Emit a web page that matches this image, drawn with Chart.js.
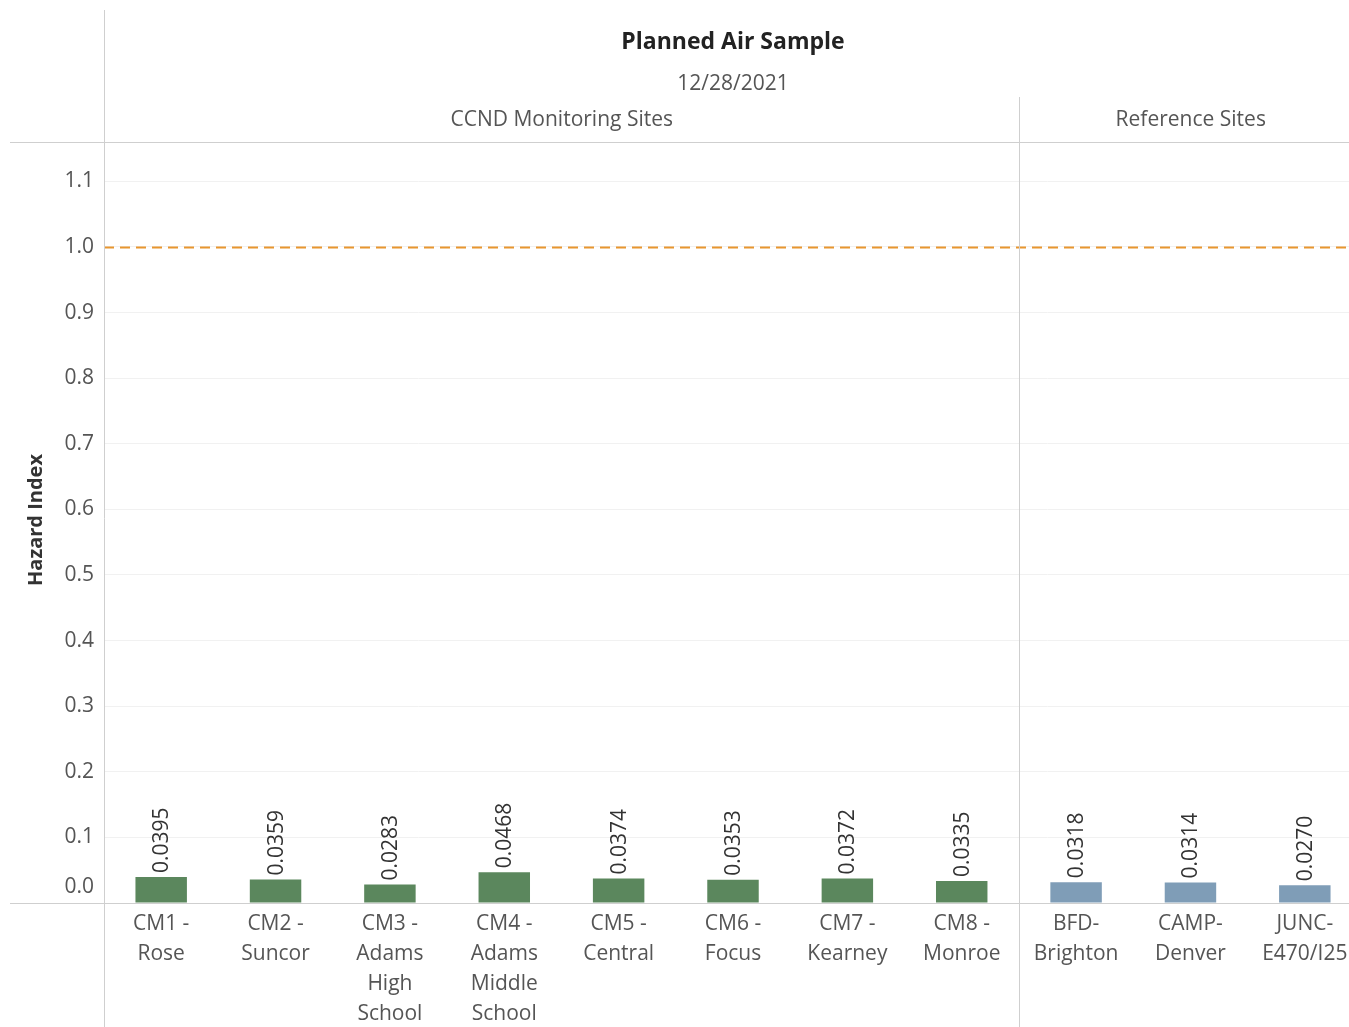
<!DOCTYPE html>
<html>
<head>
<meta charset="utf-8">
<script src="https://cdn.jsdelivr.net/npm/chart.js@4/dist/chart.umd.min.js"></script>
<style>
  html, body { margin: 0; padding: 0; background: #fff; overflow: hidden; }
  #wrap { width: 1362px; height: 1027px; }
</style>
</head>
<body>
<div id="wrap"><canvas id="airChart" width="1362" height="1027"></canvas></div>
<script>
// data
const categories = [
    ['CM1 -', 'Rose'], ['CM2 -', 'Suncor'], ['CM3 -', 'Adams', 'High', 'School'],
    ['CM4 -', 'Adams', 'Middle', 'School'], ['CM5 -', 'Central'], ['CM6 -', 'Focus'],
    ['CM7 -', 'Kearney'], ['CM8 -', 'Monroe'], ['BFD-', 'Brighton'], ['CAMP-', 'Denver'],
    ['JUNC-', 'E470/I25']
];
const siteGroup = ['CCND', 'CCND', 'CCND', 'CCND', 'CCND', 'CCND', 'CCND', 'CCND', 'REF', 'REF', 'REF'];
const groupNames = { CCND: 'CCND Monitoring Sites', REF: 'Reference Sites' };
const hazardIndex = [0.0395, 0.0359, 0.0283, 0.0468, 0.0374, 0.0353, 0.0372, 0.0335, 0.0318, 0.0314, 0.0270];
const yTicks = [0.0, 0.1, 0.2, 0.3, 0.4, 0.5, 0.6, 0.7, 0.8, 0.9, 1.0, 1.1];
const threshold = 1.0;

const groupColors = { CCND: '#5b875d', REF: '#7f9db7' };
const fontFamily = '"Open Sans", "Noto Sans", sans-serif';
const lineColor = '#cfcfcf';

document.addEventListener("DOMContentLoaded", function() {
    // header, frame lines, threshold line and value labels
    const decor = {
        id: 'decor',
        afterDatasetsDraw(chart) {
            const ctx = chart.ctx;
            const area = chart.chartArea;
            const x = chart.scales.x;
            const y = chart.scales.y;
            const W = chart.width, H = chart.height;

            ctx.save();

            // threshold dashed line
            const ty = Math.round(y.getPixelForValue(threshold)) + 0.5;
            ctx.strokeStyle = '#e8962f';
            ctx.lineWidth = 2;
            ctx.setLineDash([10, 6]);
            ctx.beginPath();
            ctx.moveTo(area.left, ty);
            ctx.lineTo(W, ty);
            ctx.stroke();
            ctx.setLineDash([]);

            // frame lines
            ctx.strokeStyle = lineColor;
            ctx.lineWidth = 1;
            ctx.beginPath();
            ctx.moveTo(area.left + 0.5, 10);
            ctx.lineTo(area.left + 0.5, H);
            ctx.moveTo(10, area.top + 0.5);
            ctx.lineTo(W, area.top + 0.5);
            ctx.moveTo(10, area.bottom + 0.5);
            ctx.lineTo(W, area.bottom + 0.5);
            ctx.stroke();

            // divider between the two site groups
            let split = siteGroup.findIndex(g => g !== siteGroup[0]);
            const divX = Math.round((x.getPixelForValue(split - 1) + x.getPixelForValue(split)) / 2) + 0.5;
            ctx.beginPath();
            ctx.moveTo(divX, 97);
            ctx.lineTo(divX, H);
            ctx.stroke();

            // titles
            const fullRight = x.getPixelForValue(categories.length - 1) + (x.getPixelForValue(1) - x.getPixelForValue(0)) / 2;
            const mid = (area.left + fullRight) / 2;
            ctx.textAlign = 'center';
            ctx.textBaseline = 'middle';
            ctx.fillStyle = '#222';
            ctx.font = 'bold 23px ' + fontFamily;
            ctx.fillText('Planned Air Sample', mid, 42);
            ctx.fillStyle = '#555';
            ctx.font = '21px ' + fontFamily;
            ctx.fillText('12/28/2021', mid, 84);
            ctx.fillText(groupNames[siteGroup[0]], (area.left + divX) / 2, 120);
            ctx.fillText(groupNames[siteGroup[split]], (divX + fullRight) / 2, 120);

            // y axis title
            ctx.save();
            ctx.translate(36, 520);
            ctx.rotate(-Math.PI / 2);
            ctx.fillStyle = '#333';
            ctx.font = 'bold 20px ' + fontFamily;
            ctx.fillText('Hazard Index', 0, 0);
            ctx.restore();

            // rotated value labels above bars
            ctx.fillStyle = '#333';
            ctx.font = '21px ' + fontFamily;
            ctx.textAlign = 'left';
            ctx.textBaseline = 'middle';
            chart.getDatasetMeta(0).data.forEach((bar, i) => {
                ctx.save();
                ctx.translate(bar.x + 1, bar.y - 4);
                ctx.rotate(-Math.PI / 2);
                ctx.fillText(hazardIndex[i].toFixed(4), 0, 0);
                ctx.restore();
            });

            ctx.restore();
        }
    };

    const ctx = document.getElementById('airChart').getContext('2d');
    const airChart = new Chart(ctx, {
        type: 'bar',
        data: {
            labels: categories,
            datasets: [{
                label: 'Hazard Index',
                data: hazardIndex,
                backgroundColor: siteGroup.map(g => groupColors[g]),
                borderWidth: 0,
                barPercentage: 0.45,
                categoryPercentage: 1.0
            }]
        },
        options: {
            responsive: false,
            animation: false,
            layout: {
                padding: { top: 142, left: 0, right: 0, bottom: 0 }
            },
            plugins: {
                legend: { display: false },
                tooltip: { enabled: false }
            },
            scales: {
                x: {
                    grid: { display: false, drawTicks: false },
                    border: { display: false },
                    ticks: {
                        color: '#555',
                        padding: 6,
                        maxRotation: 0,
                        autoSkip: false,
                        font: { family: fontFamily, size: 21, lineHeight: 1.43 }
                    },
                    afterFit(scale) { scale.height = 124; }
                },
                y: {
                    min: 0,
                    max: 1.16,
                    grid: { color: '#f1f1f1', drawTicks: false },
                    border: { display: false },
                    afterBuildTicks(scale) {
                        scale.ticks = yTicks.map(v => ({ value: v }));
                    },
                    ticks: {
                        color: '#555',
                        padding: 10,
                        // the 0.0 label sits above the baseline in the original
                        font: c => ({ family: fontFamily, size: 21, lineHeight: c.tick && c.tick.value === 0 ? 1.5 : 1.2 }),
                        callback: v => v === 0 ? [Number(v).toFixed(1), ''] : Number(v).toFixed(1)
                    },
                    afterFit(scale) { scale.width = 104; }
                }
            }
        },
        plugins: [decor]
    });
});
</script>
</body>
</html>
